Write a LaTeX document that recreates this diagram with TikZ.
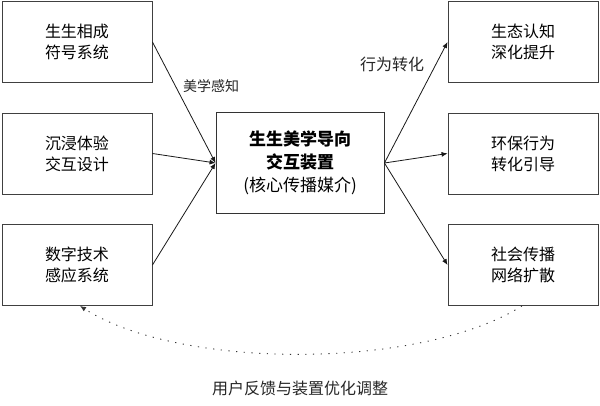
\documentclass[tikz,border=0pt]{standalone}
\usepackage{fontspec}
\setmainfont{Noto Sans CJK SC}
\usetikzlibrary{arrows.meta}
\begin{document}
\begin{tikzpicture}[x=1pt,y=-1pt,
  box/.style={draw=black!75, line width=0.9pt, fill=white, minimum width=150pt, minimum height=81pt, inner sep=0pt, align=center, font=\fontsize{16}{21}\selectfont},
  cbox/.style={draw=black!80, line width=0.9pt, fill=white, minimum width=168pt, minimum height=101pt, inner sep=0pt, align=center, font=\fontsize{17}{23}\selectfont},
  arr/.style={draw=black!90, line width=0.8pt, -{Latex[length=6pt,width=5pt]}},
  lbl/.style={font=\fontsize{14}{16}\selectfont, text=black!85}]
\useasboundingbox (0,0) rectangle (600,406);
\fill[white] (0,0) rectangle (600,406);
\node[box] (l1) at (77,42) {生生相成\\符号系统};
\node[box] (l2) at (77,153.5) {沉浸体验\\交互设计};
\node[box] (l3) at (77,265) {数字技术\\感应系统};
\node[cbox] (c) at (300,163) {\textbf{生生美学导向}\\\textbf{交互装置}\\(核心传播媒介)};
\node[box] (r1) at (523,42) {生态认知\\深化提升};
\node[box] (r2) at (523,153.5) {环保行为\\转化引导};
\node[box] (r3) at (523,265) {社会传播\\网络扩散};
\draw[arr] (l1.east) -- (c.west);
\draw[arr] (l2.east) -- (c.west);
\draw[arr] (l3.east) -- (c.west);
\draw[arr] (c.east) -- (r1.west);
\draw[arr] (c.east) -- (r2.west);
\draw[arr] (c.east) -- (r3.west);
\node[lbl] (t1) at (211,86) {美学感知};
\node[lbl, font=\fontsize{16}{18}\selectfont] (t2) at (392,64) {行为转化};
\coordinate (fs) at ([xshift=-1pt]r3.south);
\coordinate (fe) at ([xshift=3pt]l3.south);
\draw[black!80, line width=0.9pt, dash pattern=on 1.2pt off 6.5pt, -{Latex[length=6pt,width=5pt]}]
  (fs) .. controls (420,370) and (180,370) .. (fe);
\node[font=\fontsize{16}{18}\selectfont, text=black!85] (t3) at (300,388) {用户反馈与装置优化调整};
\end{tikzpicture}
\end{document}
